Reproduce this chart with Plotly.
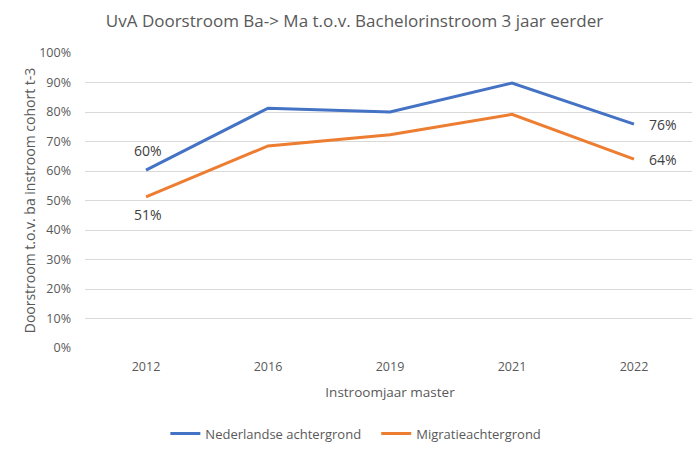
import plotly.graph_objects as go

# data
years = ["2012", "2016", "2019", "2021", "2022"]
nederlands = [0.603, 0.813, 0.800, 0.898, 0.759]
migratie = [0.512, 0.685, 0.723, 0.792, 0.640]
y_ticks = [0, 0.1, 0.2, 0.3, 0.4, 0.5, 0.6, 0.7, 0.8, 0.9, 1.0]

BLUE = "#4472C4"
ORANGE = "#ED7D31"
TEXT = "#595959"
LABEL = "#404040"
FONT = "Open Sans"

fig = go.Figure()
fig.add_trace(
    go.Scatter(
        x=years,
        y=nederlands,
        name="Nederlandse achtergrond   ",
        mode="lines",
        line={"color": BLUE, "width": 3},
    )
)
fig.add_trace(
    go.Scatter(
        x=years,
        y=migratie,
        name="Migratieachtergrond",
        mode="lines",
        line={"color": ORANGE, "width": 3},
    )
)

# data labels only on first and last point, as in the Excel original
# (category axis: annotations take the category index, not the label)
first, last = 0, len(years) - 1
label_font = {"size": 14, "color": LABEL}
for series, shift_first in ((nederlands, 20), (migratie, -18)):
    fig.add_annotation(
        x=first, y=series[first], text=f"{series[first]:.0%}", showarrow=False,
        yshift=shift_first, xshift=2, font=label_font,
    )
    fig.add_annotation(
        x=last, y=series[last], text=f"{series[last]:.0%}", showarrow=False,
        xanchor="left", xshift=13, font=label_font,
    )

fig.update_layout(
    width=700,
    height=454,
    margin={"l": 77, "r": 13, "t": 45, "b": 114},
    paper_bgcolor="white",
    plot_bgcolor="white",
    font={"family": FONT, "color": TEXT, "size": 12},
    title={
        "text": "UvA Doorstroom Ba-> Ma t.o.v. Bachelorinstroom 3 jaar eerder",
        "x": 0.495,
        "xanchor": "center",
        "y": 0.972,
        "yanchor": "middle",
        "font": {"size": 17, "color": TEXT, "family": FONT},
    },
    xaxis={
        "type": "category",
        "range": [-0.5, 4.5],
        "showgrid": False,
        "showline": False,
        "zeroline": False,
        "ticks": "",
        "ticklabelstandoff": 9,
        "tickfont": {"size": 12.5, "color": TEXT},
        "title": {"text": "Instroomjaar master", "font": {"size": 13.5, "color": TEXT}, "standoff": 14},
    },
    yaxis={
        "range": [0, 1.0],
        "tickvals": y_ticks,
        "tickformat": ".0%",
        "gridcolor": "#D9D9D9",
        "gridwidth": 1,
        "zeroline": False,
        "showline": False,
        "ticks": "",
        "ticklabelstandoff": 13,
        "tickfont": {"size": 12.5, "color": TEXT},
        "title": {"text": "Doorstroom t.o.v. ba instroom cohort t-3", "font": {"size": 14, "color": TEXT}, "standoff": 0},
    },
    legend={
        "orientation": "h",
        "x": 0.444,
        "xanchor": "center",
        "y": -0.29,
        "yanchor": "middle",
        "font": {"size": 13, "color": TEXT},
        "itemwidth": 30,
        "tracegroupgap": 0,
    },
)

fig.write_html("out.html")
